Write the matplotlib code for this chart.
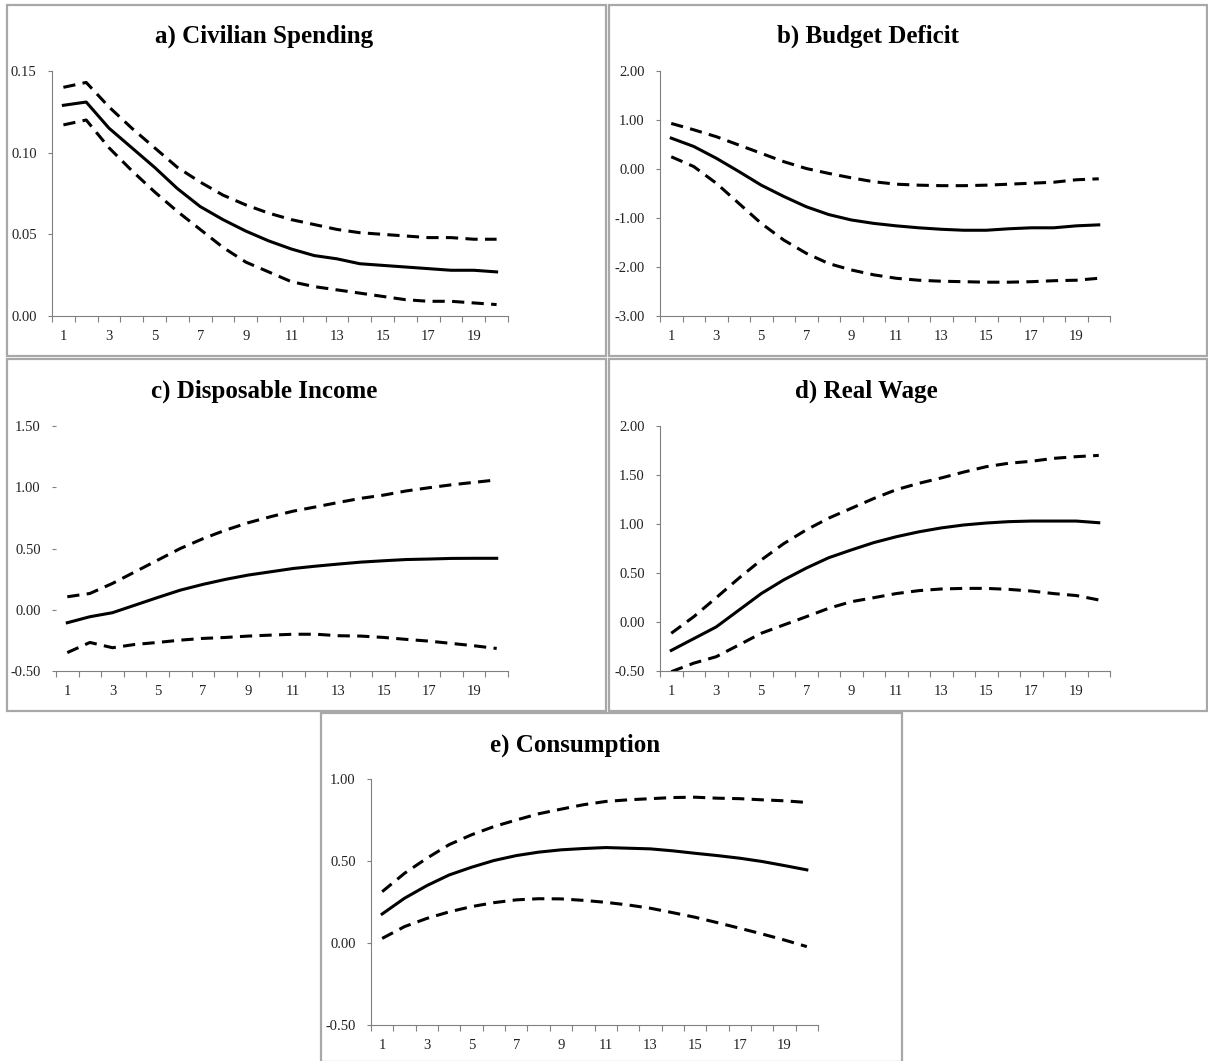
import numpy as np
import matplotlib
matplotlib.use("Agg")
import matplotlib.pyplot as plt
from matplotlib.patches import Rectangle

### 0. Data
periods = list(range(1, 21))
xlabels = [str(p) for p in range(1, 20, 2)]

titles = ["a) Civilian Spending", "b) Budget Deficit", "c) Disposable Income",
          "d) Real Wage", "e) Consumption"]

civ_mid = [0.129, 0.131, 0.115, 0.103, 0.091, 0.078, 0.067, 0.059, 0.052, 0.046,
           0.041, 0.037, 0.035, 0.032, 0.031, 0.030, 0.029, 0.028, 0.028, 0.027]
civ_up = [0.140, 0.143, 0.128, 0.115, 0.103, 0.091, 0.082, 0.074, 0.068, 0.063,
          0.059, 0.056, 0.053, 0.051, 0.050, 0.049, 0.048, 0.048, 0.047, 0.047]
civ_lo = [0.117, 0.120, 0.103, 0.089, 0.076, 0.064, 0.053, 0.042, 0.033, 0.027,
          0.021, 0.018, 0.016, 0.014, 0.012, 0.010, 0.009, 0.009, 0.008, 0.007]

def_mid = [0.63, 0.46, 0.22, -0.05, -0.33, -0.56, -0.77, -0.93, -1.04, -1.11,
           -1.16, -1.20, -1.23, -1.25, -1.25, -1.22, -1.20, -1.20, -1.16, -1.14]
def_up = [0.93, 0.80, 0.66, 0.49, 0.32, 0.15, 0.01, -0.09, -0.18, -0.26,
          -0.31, -0.33, -0.34, -0.34, -0.33, -0.31, -0.29, -0.27, -0.22, -0.20]
def_lo = [0.25, 0.05, -0.29, -0.70, -1.11, -1.45, -1.72, -1.93, -2.06, -2.16,
          -2.23, -2.27, -2.29, -2.30, -2.31, -2.31, -2.30, -2.28, -2.27, -2.23]

inc_mid = [-0.106, -0.057, -0.024, 0.038, 0.100, 0.160, 0.207, 0.248, 0.283, 0.310,
           0.337, 0.356, 0.373, 0.389, 0.400, 0.410, 0.414, 0.419, 0.420, 0.420]
inc_up = [0.106, 0.133, 0.215, 0.310, 0.405, 0.500, 0.580, 0.650, 0.710, 0.760,
          0.805, 0.840, 0.876, 0.910, 0.936, 0.970, 0.996, 1.020, 1.040, 1.060]
inc_lo = [-0.350, -0.267, -0.310, -0.283, -0.267, -0.248, -0.234, -0.226, -0.215, -0.207,
          -0.200, -0.200, -0.212, -0.215, -0.226, -0.242, -0.256, -0.275, -0.294, -0.316]

wage_mid = [-0.29, -0.17, -0.05, 0.12, 0.29, 0.43, 0.55, 0.656, 0.735, 0.81,
            0.87, 0.92, 0.96, 0.99, 1.01, 1.024, 1.03, 1.03, 1.03, 1.013]
wage_up = [-0.115, 0.054, 0.248, 0.446, 0.633, 0.80, 0.94, 1.06, 1.16, 1.26,
           1.35, 1.415, 1.47, 1.53, 1.585, 1.62, 1.64, 1.67, 1.687, 1.70]
wage_lo = [-0.507, -0.42, -0.354, -0.235, -0.115, -0.03, 0.054, 0.14, 0.207, 0.248,
           0.29, 0.32, 0.337, 0.343, 0.343, 0.333, 0.316, 0.29, 0.27, 0.225]

cons_mid = [0.177, 0.273, 0.350, 0.415, 0.462, 0.503, 0.533, 0.554, 0.568, 0.576,
            0.582, 0.578, 0.574, 0.562, 0.547, 0.533, 0.517, 0.497, 0.472, 0.446]
cons_up = [0.313, 0.425, 0.517, 0.600, 0.660, 0.710, 0.750, 0.788, 0.816, 0.843,
           0.863, 0.873, 0.880, 0.887, 0.889, 0.883, 0.880, 0.873, 0.867, 0.857]
cons_lo = [0.028, 0.100, 0.150, 0.190, 0.222, 0.246, 0.263, 0.270, 0.269, 0.260,
           0.248, 0.232, 0.212, 0.185, 0.157, 0.124, 0.090, 0.055, 0.018, -0.022]

series = [(civ_mid, civ_up, civ_lo), (def_mid, def_up, def_lo), (inc_mid, inc_up, inc_lo),
          (wage_mid, wage_up, wage_lo), (cons_mid, cons_up, cons_lo)]

yticks = [[0.00, 0.05, 0.10, 0.15],
          [-3.0, -2.0, -1.0, 0.0, 1.0, 2.0],
          [-0.5, 0.0, 0.5, 1.0, 1.5],
          [-0.5, 0.0, 0.5, 1.0, 1.5, 2.0],
          [-0.5, 0.0, 0.5, 1.0]]

### 1. Layout (pixels)
W, H = 1208, 1061
# axes boxes: left, right, top, bottom
ax_px = [(52, 508, 71, 316), (660, 1110, 71, 316), (56, 508, 426, 671),
         (660, 1110, 426, 671), (371, 818, 779, 1025)]
# panel frames: left, top, right, bottom
frame_px = [(7, 5, 606, 356), (609, 5, 1207, 356), (7, 359, 606, 711),
            (609, 359, 1207, 711), (321, 713, 902, 1062)]
title_px = [(264, 43), (868, 43), (264, 398), (866, 398), (575, 752)]

serif = "Liberation Serif"
fig = plt.figure(figsize=(W / 100, H / 100), dpi=100)

for fl, ft, fr, fb in frame_px:
    fig.patches.append(Rectangle((fl / W, 1 - fb / H), (fr - fl) / W, (fb - ft) / H,
                                 transform=fig.transFigure, fill=False,
                                 edgecolor="#a8a8a8", lw=1.6))

for i in range(5):
    l, r, t, b = ax_px[i]
    ax = fig.add_axes([l / W, 1 - b / H, (r - l) / W, (b - t) / H])
    mid, up, lo = series[i]
    ax.plot(periods, mid, color="black", lw=2.2)
    ax.plot(periods, up, color="black", lw=2.2, linestyle=(0, (4, 2.4)))
    ax.plot(periods, lo, color="black", lw=2.2, linestyle=(0, (4, 2.4)))
    ax.set_xlim(0.5, 20.5)
    ax.set_ylim(yticks[i][0], yticks[i][-1])
    ax.set_yticks(yticks[i])
    ax.set_yticklabels(["{:.2f}".format(v) for v in yticks[i]])
    # ticks between categories, labels on odd periods
    ax.set_xticks(np.arange(0.5, 21, 1.0))
    ax.set_xticklabels([])
    ax.set_xticks(range(1, 20, 2), minor=True)
    ax.set_xticklabels(xlabels, minor=True)
    ax.tick_params(axis="x", which="major", length=4, width=0.8, color="#808080", direction="out")
    ax.tick_params(axis="x", which="minor", length=0, pad=10, labelsize=10.5, labelcolor="#222222")
    ax.tick_params(axis="y", length=3, width=0.8, color="#808080", pad=8,
                   labelsize=10.5, labelcolor="#222222")
    for lab in ax.get_xticklabels(minor=True) + ax.get_yticklabels():
        lab.set_family(serif)
    for s in ["top", "right"]:
        ax.spines[s].set_visible(False)
    for s in ["left", "bottom"]:
        ax.spines[s].set_color("#808080")
        ax.spines[s].set_linewidth(0.8)
    if i == 2:
        ax.spines["left"].set_visible(False)
    tx, ty = title_px[i]
    fig.text(tx / W, 1 - ty / H, titles[i], ha="center", va="baseline",
             family=serif, fontweight="bold", fontsize=18)

plt.savefig("out.png", dpi=100)
